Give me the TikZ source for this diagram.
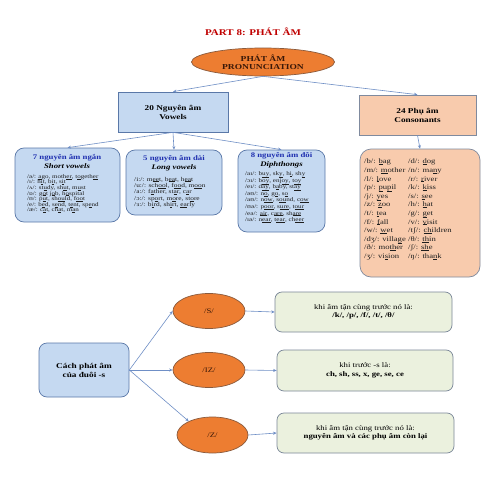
\documentclass[tikz,border=0pt]{standalone}
\usepackage{fontspec}
\setmainfont{Liberation Serif}[FakeStretch=1.25]
\usetikzlibrary{arrows.meta,shapes.geometric}
\definecolor{titlered}{HTML}{C00000}
\definecolor{orfill}{HTML}{ED7D31}
\definecolor{orline}{HTML}{8A5A3C}
\definecolor{bluefill}{HTML}{C5D9F1}
\definecolor{blueline}{HTML}{5A78A8}
\definecolor{peachfill}{HTML}{F8CBAD}
\definecolor{peachline}{HTML}{7F8A9E}
\definecolor{greenfill}{HTML}{EBF1DE}
\definecolor{greenline}{HTML}{7A8798}
\definecolor{arrowblue}{HTML}{6F8FC6}
\definecolor{headblue}{HTML}{1F2FB0}
\definecolor{ovaltext}{HTML}{3A1808}
\definecolor{listgray}{HTML}{1E1E1E}
\newcommand{\uln}[1]{\vtop{\hbox{#1}\kern0.25pt\hrule height 0.3pt}}
\lineskiplimit=-100pt
\begin{document}
\begin{tikzpicture}[x=1pt,y=-1pt,
  conn/.style={draw=arrowblue, line width=0.6pt, -{Stealth[length=3.5pt,width=3pt]}},
  oval/.style={ellipse, draw=orline, fill=orfill, line width=0.7pt, inner sep=0pt},
  sqblue/.style={rectangle, draw=blueline, fill=bluefill, line width=0.7pt, inner sep=0pt},
  sqpeach/.style={rectangle, draw=peachline, fill=peachfill, line width=0.7pt, inner sep=0pt},
  rblue/.style={rectangle, rounded corners=9pt, draw=blueline, fill=bluefill, line width=0.7pt, inner sep=0pt},
  rpeach/.style={rectangle, rounded corners=11pt, draw=peachline, fill=peachfill, line width=0.7pt, inner sep=0pt},
  rgreen/.style={rectangle, rounded corners=7pt, draw=greenline, fill=greenfill, line width=0.7pt, inner sep=0pt},
  headtext/.style={align=center, inner sep=0pt, font=\bfseries\fontsize{7}{8.6}\selectfont},
  listtext/.style={align=left, inner sep=0pt, text=listgray},
  greentext/.style={align=center, inner sep=0pt, font=\fontsize{7}{8.5}\selectfont}
]
\useasboundingbox (0,0) rectangle (495,495);
\fill[white] (0,0) rectangle (495,495);

% title
\node[inner sep=0pt, text=titlered, font=\bfseries\fontsize{8.8}{10}\selectfont] (title) at (253,32) {PART 8: PHÁT ÂM};

% top ellipse
\node[oval, minimum width=143pt, minimum height=28pt, align=center, text=ovaltext,
      font=\bfseries\fontsize{7.6}{8}\selectfont] (pron) at (263,62) {PHÁT ÂM\\PRONUNCIATION};

% level 2 boxes
\node[sqblue, minimum width=110pt, minimum height=40pt, align=center,
      font=\bfseries\fontsize{7.4}{9}\selectfont] (vow) at (173,112) {20 Nguyên âm\\Vowels};
\node[sqpeach, minimum width=117pt, minimum height=40pt, align=center,
      font=\bfseries\fontsize{7.4}{9}\selectfont] (cons) at (417.5,115) {24 Phụ âm\\Consonants};

% vowel boxes
\node[rblue, minimum width=105pt, minimum height=74pt] (short) at (67.5,185) {};
\node[rblue, minimum width=96pt, minimum height=65pt] (long) at (174,182.5) {};
\node[rblue, minimum width=87pt, minimum height=82pt] (diph) at (281.5,191) {};
\node[rpeach, minimum width=120pt, minimum height=128pt] (conl) at (420,213) {};

\node[headtext] (shortT) at (67,161.5) {{\color{headblue}7 nguyên âm ngắn}\\{\itshape Short vowels}};
\node[headtext] (longT) at (174,163.5) {{\color{headblue}5 nguyên âm dài}\\{\itshape Long vowels}};
\node[headtext] (diphT) at (281.5,160.5) {{\color{headblue}8 nguyên âm đôi}\\{\itshape Diphthongs}};

\node[listtext, anchor=west, font=\fontsize{5.6}{5.6}\selectfont] (shortL) at (27,193.5)
 {/ə/: \uln{a}go, moth\uln{er}, t\uln{o}geth\uln{er}\\
  /ɪ/: h\uln{i}t, b\uln{i}t, s\uln{i}t\\
  /ʌ/: st\uln{u}dy, sh\uln{u}t, m\uln{u}st\\
  /ɒ/: g\uln{o}t j\uln{o}b, h\uln{o}spital\\
  /ʊ/: p\uln{u}t, sh\uln{ou}ld, f\uln{oo}t\\
  /e/: b\uln{e}d, s\uln{e}nd, t\uln{e}nt, sp\uln{e}nd\\
  /æ/: c\uln{a}t, ch\uln{a}t, m\uln{a}n};

\node[listtext, anchor=west, font=\fontsize{5.9}{6.4}\selectfont] (longL) at (134,192.5)
 {/i:/: m\uln{ee}t, b\uln{ea}t, h\uln{ea}t\\
  /u:/: sch\uln{oo}l, f\uln{oo}d, m\uln{oo}n\\
  /a:/: f\uln{a}ther, st\uln{a}r, c\uln{a}r\\
  /ɔ:/: sp\uln{o}rt, m\uln{o}re, st\uln{o}re\\
  /ɜ:/: b\uln{i}rd, sh\uln{i}rt, \uln{ea}rly};

\node[listtext, anchor=west, font=\fontsize{5.7}{6.6}\selectfont] (diphL) at (245,197)
 {/aɪ/: b\uln{uy}, sk\uln{y}, h\uln{i}, sh\uln{y}\\
  /ɔɪ/: b\uln{oy}, enj\uln{oy}, t\uln{oy}\\
  /eɪ/: d\uln{ay}, b\uln{a}by, st\uln{ay}\\
  /əʊ/: n\uln{o}, g\uln{o}, s\uln{o}\\
  /aʊ/: n\uln{ow}, s\uln{ou}nd, c\uln{ow}\\
  /ʊə/: p\uln{oor}, s\uln{ure}, t\uln{our}\\
  /eə/: \uln{air}, c\uln{are}, sh\uln{are}\\
  /ɪə/: n\uln{ear}, t\uln{ear}, ch\uln{eer}};

\node[listtext, anchor=west, font=\fontsize{6.9}{8.6}\selectfont] (consA) at (364,209.5)
 {/b/: \uln{b}ag\\ /m/: \uln{m}other\\ /l/: \uln{l}ove\\ /p/: \uln{p}u\uln{p}il\\
  /j/: \uln{y}es\\ /z/: \uln{z}oo\\ /t/: \uln{t}ea\\ /f/: \uln{f}all\\
  /w/: \uln{w}et\\ /dʒ/: villa\uln{g}e\\ /ð/: mo\uln{th}er\\ /ʒ/: vi\uln{s}ion};
\node[listtext, anchor=west, font=\fontsize{6.9}{8.6}\selectfont] (consB) at (408,209.5)
 {/d/: \uln{d}og\\ /n/: ma\uln{n}y\\ /r/: \uln{r}iver\\ /k/: \uln{k}iss\\
  /s/: \uln{s}ee\\ /h/: \uln{h}at\\ /g/: \uln{g}et\\ /v/: \uln{v}isit\\
  /tʃ/: \uln{ch}ildren\\ /θ/: \uln{th}in\\ /ʃ/: \uln{sh}e\\ /ŋ/: tha\uln{n}k};

% top connectors
\draw[conn] (pron.south) -- (vow.north);
\draw[conn] (pron.south) -- (cons.north);
\draw[conn] (vow.south) -- (short.north);
\draw[conn] (vow.south) -- (long.north);
\draw[conn] (vow.south) -- (diph.north);
\draw[conn] (cons.south) -- (conl.north);

% bottom section
\node[rblue, rounded corners=8pt, minimum width=90pt, minimum height=54pt, align=center,
      font=\bfseries\fontsize{7.4}{9}\selectfont] (cach) at (84,370) {Cách phát âm\\của đuôi -s};
\node[oval, minimum width=72pt, minimum height=35pt, text=ovaltext, font=\fontsize{7}{8}\selectfont] (es) at (209,311) {/S/};
\node[oval, minimum width=72pt, minimum height=35pt, text=ovaltext, font=\fontsize{7}{8}\selectfont] (iz) at (209,370) {/IZ/};
\node[oval, minimum width=71pt, minimum height=36pt, text=ovaltext, font=\fontsize{7}{8}\selectfont] (zz) at (212.5,435) {/Z/};

\node[rgreen, minimum width=177pt, minimum height=40pt] (g1) at (363.5,312) {};
\node[rgreen, minimum width=176pt, minimum height=41pt] (g2) at (365,370.5) {};
\node[rgreen, minimum width=177pt, minimum height=40pt] (g3) at (365.5,433) {};
\node[greentext] (g1t) at (g1.center) {khi âm tận cùng trước nó là:\\\textbf{/k/, /p/, /f/, /t/, /θ/}};
\node[greentext] (g2t) at (g2.center) {khi trước -s là:\\\textbf{ch, sh, ss, x, ge, se, ce}};
\node[greentext] (g3t) at (g3.center) {khi âm tận cùng trước nó là:\\\textbf{nguyên âm và các phụ âm còn lại}};

\draw[conn] (cach.east) -- (es.west);
\draw[conn] (cach.east) -- (iz.west);
\draw[conn] (cach.east) -- (zz.150);
\draw[conn] (es.east) -- (g1.west);
\draw[conn] (iz.east) -- (g2.west);
\draw[conn] (zz.east) -- (g3.west);
\end{tikzpicture}
\end{document}
